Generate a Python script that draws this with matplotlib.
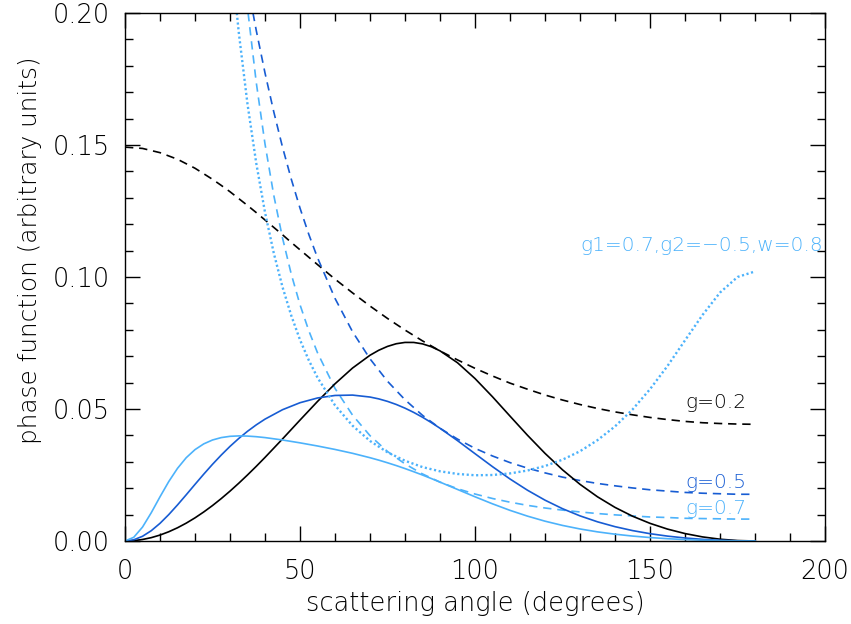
import matplotlib
matplotlib.use("Agg")
import matplotlib.pyplot as plt
from matplotlib.ticker import MultipleLocator, FormatStrFormatter

# scattering angles (degrees) at which the dashed / dotted curves were read
angle_d = [0, 5, 10, 15, 20, 25, 27.5, 30, 32.5, 35, 37.5, 40, 42.5, 45, 47.5, 50, 52.5,
           55, 60, 65, 70, 75, 80, 85, 90, 95, 100, 105, 110, 115, 120, 125, 130, 135,
           140, 145, 150, 155, 160, 165, 170, 175, 180]

# dashed curves: phase function for g=0.2, 0.5, 0.7
hg02 = [0.1492, 0.1487, 0.1471, 0.1446, 0.1412, 0.1370, 0.1347, 0.1323, 0.1297, 0.1271,
        0.1244, 0.1216, 0.1188, 0.1160, 0.1131, 0.1103, 0.1075, 0.1047,
        0.0992, 0.0940, 0.0890, 0.0843, 0.0799, 0.0758, 0.0720, 0.0686, 0.0654, 0.0625,
        0.0598, 0.0575, 0.0553, 0.0534, 0.0517, 0.0502, 0.0489, 0.0478, 0.0468, 0.0460,
        0.0453, 0.0448, 0.0445, 0.0443, 0.0442]
hg05 = [0.4775, 0.4668, 0.4370, 0.3942, 0.3453, 0.2962, 0.2729, 0.2508, 0.2302, 0.2110,
        0.1934, 0.1773, 0.1626, 0.1492, 0.1371, 0.1261, 0.1162, 0.1073,
        0.0919, 0.0793, 0.0690, 0.0605, 0.0535, 0.0476, 0.0427, 0.0386, 0.0351, 0.0322,
        0.0297, 0.0276, 0.0258, 0.0242, 0.0229, 0.0218, 0.0209, 0.0201, 0.0194, 0.0189,
        0.0184, 0.0181, 0.0179, 0.0177, 0.0177]
hg07 = [1.5032, 1.3788, 1.0935, 0.7943, 0.5571, 0.3902, 0.3283, 0.2776, 0.2360, 0.2019,
        0.1737, 0.1504, 0.1310, 0.1148, 0.1011, 0.0895, 0.0797, 0.0713,
        0.0578, 0.0477, 0.0399, 0.0339, 0.0292, 0.0254, 0.0223, 0.0198, 0.0178, 0.0161,
        0.0147, 0.0135, 0.0125, 0.0117, 0.0110, 0.0104, 0.0099, 0.0095, 0.0091, 0.0089,
        0.0086, 0.0085, 0.0084, 0.0083, 0.0083]

# dotted curve: double phase function g1=0.7, g2=-0.5, w=0.8
dhg = [1.2061, 1.1066, 0.8784, 0.6390, 0.4494, 0.3159, 0.2664, 0.2259, 0.1927, 0.1655,
       0.1431, 0.1245, 0.1091, 0.0962, 0.0854, 0.0762, 0.0685, 0.0619,
       0.0514, 0.0437, 0.0379, 0.0336, 0.0304, 0.0280, 0.0264, 0.0254, 0.0249, 0.0250,
       0.0256, 0.0267, 0.0284, 0.0308, 0.0340, 0.0382, 0.0434, 0.0498, 0.0575, 0.0663,
       0.0760, 0.0856, 0.0941, 0.1000, 0.1021]

# scattering angles (degrees) at which the solid curves were read
angle_s = [0, 2.5, 5, 7.5, 10, 12.5, 15, 17.5, 20, 22.5, 25, 27.5, 30, 32.5, 35, 37.5, 40,
           45, 50, 55, 60, 65, 70, 72.5, 75, 77.5, 80, 82.5, 85, 87.5, 90, 95, 100, 105,
           110, 115, 120, 125, 130, 135, 140, 145, 150, 155, 160, 165, 170, 175, 180]

# solid curves
pol02 = [0, 0.00014, 0.00057, 0.00127, 0.00225, 0.00350, 0.00501, 0.00677, 0.00877,
         0.01100, 0.01343, 0.01607, 0.01889, 0.02188, 0.02502, 0.02828, 0.03166,
         0.03865, 0.04580, 0.05285, 0.05954, 0.06550, 0.07036, 0.07225, 0.07371, 0.07472,
         0.07522, 0.07521, 0.07467, 0.07360, 0.07203, 0.06752, 0.06154, 0.05463, 0.04731,
         0.04005, 0.03320, 0.02697, 0.02147, 0.01674, 0.01273, 0.00940, 0.00669, 0.00451,
         0.00282, 0.00155, 0.00068, 0.00017, 0]
pol05 = [0, 0.00045, 0.00178, 0.00390, 0.00669, 0.01000, 0.01366, 0.01752, 0.02145,
         0.02532, 0.02905, 0.03256, 0.03584, 0.03883, 0.04155, 0.04399, 0.04616,
         0.04973, 0.05238, 0.05417, 0.05513, 0.05527, 0.05453, 0.05383, 0.05289, 0.05172,
         0.05032, 0.04870, 0.04688, 0.04487, 0.04271, 0.03802, 0.03308, 0.02816, 0.02349,
         0.01923, 0.01547, 0.01224, 0.00952, 0.00727, 0.00543, 0.00395, 0.00277, 0.00185,
         0.00114, 0.00063, 0.00027, 0.00007, 0]
pol07 = [0, 0.00140, 0.00526, 0.01071, 0.01674, 0.02251, 0.02752, 0.03156, 0.03461,
         0.03679, 0.03826, 0.03917, 0.03965, 0.03981, 0.03974, 0.03951, 0.03917,
         0.03826, 0.03718, 0.03599, 0.03468, 0.03322, 0.03155, 0.03063, 0.02963, 0.02857,
         0.02744, 0.02624, 0.02499, 0.02367, 0.02231, 0.01953, 0.01675, 0.01408, 0.01161,
         0.00942, 0.00751, 0.00590, 0.00456, 0.00346, 0.00258, 0.00187, 0.00131, 0.00087,
         0.00054, 0.00029, 0.00013, 0.00003, 0]

BLACK = "#000000"
DARK = "#175cd3"
LIGHT = "#4cb2fb"

plt.rcParams["font.family"] = ["DejaVu Sans"]

fig = plt.figure(figsize=(8.51, 6.24), dpi=100)
ax = fig.add_axes([125 / 851, 1 - 541 / 624, 700 / 851, 528 / 624])

lw = 1.2
dash = (5, 3.5)
ax.plot(angle_d, hg02, color=BLACK, lw=lw, dashes=dash)
ax.plot(angle_d, hg05, color=DARK, lw=lw, dashes=dash)
ax.plot(angle_d, hg07, color=LIGHT, lw=lw, dashes=dash)
ax.plot(angle_s, pol02, color=BLACK, lw=lw)
ax.plot(angle_s, pol05, color=DARK, lw=lw)
ax.plot(angle_s, pol07, color=LIGHT, lw=lw)
ax.plot(angle_d, dhg, color=LIGHT, lw=1.7, dashes=(0.9, 1.1))

fs_ann = 14.5
fs_ax = 18.5
wt = "light"
ax.text(160, 0.0523, "g=0.2", color=BLACK, fontsize=fs_ann, weight=wt, va="center", ha="left")
ax.text(160, 0.0221, "g=0.5", color=DARK, fontsize=fs_ann, weight=wt, va="center", ha="left")
ax.text(160, 0.0125, "g=0.7", color=LIGHT, fontsize=fs_ann, weight=wt, va="center", ha="left")
ax.text(130, 0.1118, "g1=0.7,g2=\u22120.5,w=0.8", color=LIGHT, fontsize=fs_ann, weight=wt,
        va="center", ha="left")

ax.set_xlim(0, 200)
ax.set_ylim(0, 0.20)
ax.xaxis.set_major_locator(MultipleLocator(50))
ax.xaxis.set_minor_locator(MultipleLocator(10))
ax.yaxis.set_major_locator(MultipleLocator(0.05))
ax.yaxis.set_minor_locator(MultipleLocator(0.01))
ax.yaxis.set_major_formatter(FormatStrFormatter("%.2f"))
ax.tick_params(which="both", direction="in", top=True, right=True, labelsize=fs_ax,
               width=1.0)
ax.tick_params(axis="x", which="major", length=11, pad=13)
ax.tick_params(axis="y", which="major", length=11, pad=11)
ax.tick_params(which="minor", length=5.5)
for lab in ax.get_xticklabels() + ax.get_yticklabels():
    lab.set_fontweight(wt)
for sp in ax.spines.values():
    sp.set_linewidth(1.0)

ax.set_xlabel("scattering angle (degrees)", fontsize=fs_ax, weight=wt, labelpad=5)
ax.set_ylabel("phase function (arbitrary units)", fontsize=17.8, weight=wt)
ax.yaxis.set_label_coords(-83 / 700, (541 - 250) / 528)

fig.savefig("out.png", dpi=100)
